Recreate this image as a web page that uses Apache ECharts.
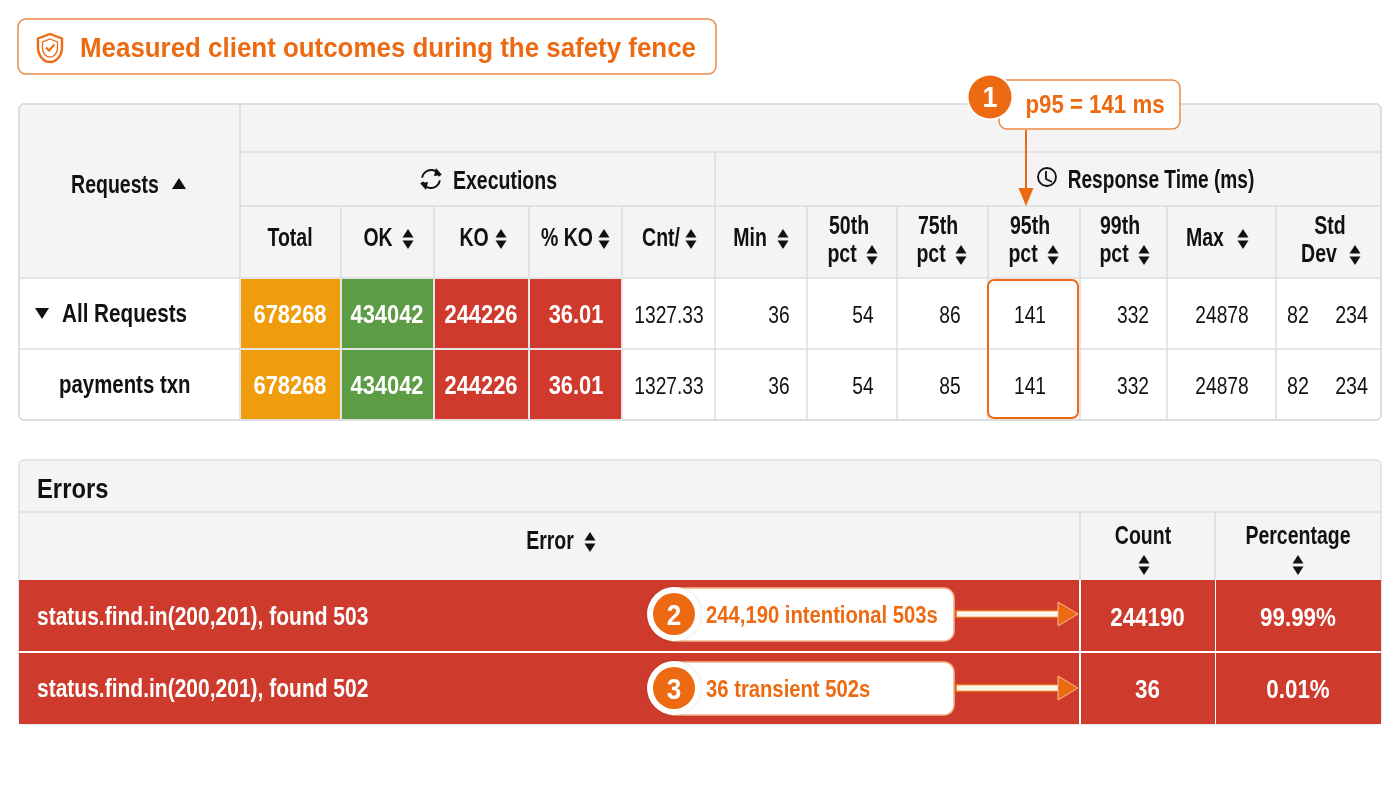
<!DOCTYPE html>
<html>
<head>
<meta charset="utf-8">
<script src="https://cdn.jsdelivr.net/npm/echarts@6/dist/echarts.min.js"></script>
<style>
  html, body { margin: 0; padding: 0; background: #fff; }
  #main { width: 1400px; height: 788px; }
</style>
</head>
<body>
<div id="main"></div>
<script>
// ---- data ----
const titleText = 'Measured client outcomes during the safety fence';
const requestNames = ['All Requests', 'payments txn'];
const executionHeaders = ['Total', 'OK', 'KO', '% KO', 'Cnt/'];
const responseHeaders = ['Min', '50th\npct', '75th\npct', '95th\npct', '99th\npct', 'Max', 'Std\nDev'];
const totalCounts = [678268, 678268];
const okCounts = [434042, 434042];
const koCounts = [244226, 244226];
const koPercent = ['36.01', '36.01'];
const cntPerSec = ['1327.33', '1327.33'];
const minMs = [36, 36];
const p50Ms = [54, 54];
const p75Ms = [86, 85];
const p95Ms = [141, 141];
const p99Ms = [332, 332];
const maxMs = [24878, 24878];
const stdDevMs = [[82, 234], [82, 234]];

const errorHeaders = ['Error', 'Count', 'Percentage'];
const errorMessages = ['status.find.in(200,201), found 503', 'status.find.in(200,201), found 502'];
const errorCounts = [244190, 36];
const errorPercent = ['99.99%', '0.01%'];
const calloutTexts = ['p95 = 141 ms', '244,190 intentional 503s', '36 transient 502s'];

// ---- layout ----
const FONT = '"Liberation Sans", Arial, sans-serif';
const ORANGE = '#EC6A12';
const LINE = '#DCDCDC';
const HEAD_BG = '#F4F4F4';
const RED = '#CE3A2B';
const DY = 2.5; // nudge for middle-aligned glyphs
const HEAD_SIZE = 25;
const HEAD_SX = 0.78;

const colEdges = [240, 341, 434, 529, 622, 715, 807, 897, 988, 1080, 1167, 1276, 1381];
const colText = [290, 387, 481, 576, 669, 779, 863, 950, 1030, 1133, 1222, null];
const rowEdges = [278, 349, 420];
const errColEdges = [19, 1080, 1215, 1381];
const errRowEdges = [580, 652, 724];

const colFills = ['#EF9D0C', '#5C9C45', '#D03A2C', '#D03A2C'];

// build the metrics cells from the arrays
const columnValues = [totalCounts, okCounts, koCounts, koPercent, cntPerSec,
  minMs, p50Ms, p75Ms, p95Ms, p99Ms, maxMs, stdDevMs];
const metricCells = [];
requestNames.forEach((name, r) => {
  columnValues.forEach((vals, c) => {
    metricCells.push({ col: c, row: r, value: vals[r] });
  });
});
const errorCells = [];
errorMessages.forEach((msg, r) => {
  [msg, errorCounts[r], errorPercent[r]].forEach((v, c) => {
    errorCells.push({ col: c, row: r, value: v });
  });
});

let chart = echarts.init(document.getElementById('main'), null, { renderer: 'canvas' });

// text drawn condensed: scaled around its anchor point
let txt = (text, x, y, size, opt) => {
  opt = opt || {};
  const al = opt.align || 'center';
  return {
    type: 'text', z: opt.z || 20,
    x: x, y: y + DY, scaleX: opt.sx || HEAD_SX,
    style: {
      text: text, x: 0, y: 0,
      fill: opt.fill || '#111',
      fontSize: size, fontWeight: opt.bold === false ? 'normal' : 'bold',
      fontFamily: FONT,
      textAlign: al, align: al,
      textVerticalAlign: 'middle', verticalAlign: 'middle'
    }
  };
};
let hline = (x1, x2, y, c, w) => ({ type: 'line', z: 15, shape: { x1: x1, y1: y, x2: x2, y2: y }, style: { stroke: c || LINE, lineWidth: w || 1.5 } });
let vline = (x, y1, y2, c, w) => ({ type: 'line', z: 15, shape: { x1: x, y1: y1, x2: x, y2: y2 }, style: { stroke: c || LINE, lineWidth: w || 1.5 } });
let sortIcon = (cx, cy) => ([
  { type: 'polygon', z: 20, shape: { points: [[cx - 5.5, cy - 1.5], [cx + 5.5, cy - 1.5], [cx, cy - 10]] }, style: { fill: '#111' } },
  { type: 'polygon', z: 20, shape: { points: [[cx - 5.5, cy + 1.5], [cx + 5.5, cy + 1.5], [cx, cy + 10]] }, style: { fill: '#111' } }
]);
let badge = (cx, cy, n) => ([
  { type: 'circle', z: 40, shape: { cx: cx, cy: cy, r: 27 }, style: { fill: '#fff', shadowBlur: 3, shadowColor: 'rgba(0,0,0,0.15)' } },
  { type: 'circle', z: 41, shape: { cx: cx, cy: cy, r: 21 }, style: { fill: ORANGE } },
  txt(String(n), cx, cy, 29, { fill: '#fff', z: 42, sx: 0.9 })
]);
// shield outline: flat top, curved lower half
let shieldPts = (cx, top, w, h) => {
  const pts = [[cx, top], [cx + w / 2, top + h * 0.16], [cx + w / 2, top + h * 0.48]];
  for (let t = 0.1; t <= 1.001; t += 0.1) {
    const a = Math.PI * 0.5 * t;
    pts.push([cx + (w / 2) * Math.cos(a), top + h * 0.48 + h * 0.52 * Math.sin(a)]);
  }
  for (let t = 0.9; t >= -0.001; t -= 0.1) {
    const a = Math.PI * 0.5 * t;
    pts.push([cx - (w / 2) * Math.cos(a), top + h * 0.48 + h * 0.52 * Math.sin(a)]);
  }
  pts.push([cx - w / 2, top + h * 0.16]);
  return pts;
};

let g = [];
// title box
g.push({ type: 'rect', z: 5, shape: { x: 18, y: 19, width: 698, height: 55, r: 8 }, style: { fill: '#fff', stroke: '#E98A48', lineWidth: 1.5 } });
g.push({ type: 'polygon', z: 20, shape: { points: shieldPts(50, 34, 24, 28) }, style: { fill: 'none', stroke: ORANGE, lineWidth: 2.4 } });
g.push({ type: 'polygon', z: 20, shape: { points: shieldPts(50, 39, 15, 18) }, style: { fill: 'none', stroke: ORANGE, lineWidth: 1.3 } });
g.push({ type: 'polyline', z: 20, shape: { points: [[46, 47.5], [49, 50.5], [54.5, 44.5]] }, style: { stroke: ORANGE, lineWidth: 2, fill: null } });
g.push(txt(titleText, 80, 47, 28, { fill: ORANGE, align: 'left', sx: 0.925 }));

// ---- metrics table frame ----
g.push({ type: 'rect', z: 1, shape: { x: 19, y: 104, width: 1362, height: 316, r: 5 }, style: { fill: '#fff', stroke: LINE, lineWidth: 1.5 } });
g.push({ type: 'rect', z: 2, shape: { x: 20, y: 105, width: 1360, height: 173, r: [5, 5, 0, 0] }, style: { fill: HEAD_BG } });
g.push({ type: 'rect', z: 30, shape: { x: 19, y: 104, width: 1362, height: 316, r: 5 }, style: { fill: 'none', stroke: LINE, lineWidth: 1.5 } });
g.push(hline(240, 1381, 152));
g.push(hline(240, 1381, 206));
g.push(hline(19, 1381, 278));
g.push(hline(19, 1381, 349));
g.push(vline(240, 104, 420));
g.push(vline(715, 152, 420));
colEdges.slice(1, -1).forEach(x => { if (x !== 715) g.push(vline(x, 206, 420)); });

// headers
g.push(txt('Requests', 115, 184, HEAD_SIZE));
g.push({ type: 'polygon', z: 20, shape: { points: [[172, 189], [186, 189], [179, 178]] }, style: { fill: '#111' } });
g.push(txt('Executions', 505, 180, HEAD_SIZE));
g.push({ type: 'arc', z: 20, shape: { cx: 431, cy: 179, r: 9, startAngle: Math.PI * 1.05, endAngle: Math.PI * 1.9, clockwise: true }, style: { stroke: '#111', lineWidth: 2, fill: null } });
g.push({ type: 'arc', z: 20, shape: { cx: 431, cy: 179, r: 9, startAngle: Math.PI * 0.05, endAngle: Math.PI * 0.9, clockwise: true }, style: { stroke: '#111', lineWidth: 2, fill: null } });
g.push({ type: 'polygon', z: 20, shape: { points: [[436, 168], [442, 175], [434, 176]] }, style: { fill: '#111' } });
g.push({ type: 'polygon', z: 20, shape: { points: [[426, 190], [420, 183], [428, 182]] }, style: { fill: '#111' } });
g.push(txt('Response Time (ms)', 1161, 179, HEAD_SIZE, { sx: 0.765 }));
g.push({ type: 'circle', z: 20, shape: { cx: 1047, cy: 177, r: 9 }, style: { fill: 'none', stroke: '#111', lineWidth: 1.8 } });
g.push({ type: 'polyline', z: 20, shape: { points: [[1046, 171], [1046, 179], [1052, 182]] }, style: { stroke: '#111', lineWidth: 1.8, fill: null } });

// [text centre line 1, text centre line 2, sort icon x]
const headerTextPos = [[290, null, null], [378, null, 408], [474, null, 501], [567, null, 604], [661, null, 691],
  [750, null, 783], [849, 842, 872], [938, 931, 961], [1030, 1023, 1053], [1120, 1114, 1144], [1205, null, 1243], [1330, 1319, 1355]];
executionHeaders.concat(responseHeaders).forEach((label, i) => {
  const p = headerTextPos[i];
  const parts = label.split('\n');
  if (parts.length === 1) {
    g.push(txt(label, p[0], 237, HEAD_SIZE));
    if (p[2]) g.push(...sortIcon(p[2], 239));
  } else {
    g.push(txt(parts[0], p[0], 225, HEAD_SIZE));
    g.push(txt(parts[1], p[1], 253, HEAD_SIZE));
    g.push(...sortIcon(p[2], 255));
  }
});
// row labels
g.push({ type: 'polygon', z: 20, shape: { points: [[35, 308], [49, 308], [42, 319]] }, style: { fill: '#111' } });
g.push(txt(requestNames[0], 62, 313, 25, { align: 'left', sx: 0.826 }));
g.push(txt(requestNames[1], 59, 384, 25, { align: 'left', sx: 0.816 }));

// p95 highlight + callout 1
g.push({ type: 'rect', z: 32, shape: { x: 988, y: 280, width: 90, height: 138, r: 6 }, style: { fill: 'none', stroke: ORANGE, lineWidth: 2 } });
g.push({ type: 'line', z: 38, shape: { x1: 1026, y1: 130, x2: 1026, y2: 192 }, style: { stroke: ORANGE, lineWidth: 2 } });
g.push({ type: 'polygon', z: 38, shape: { points: [[1018.5, 188], [1033.5, 188], [1026, 206]] }, style: { fill: ORANGE } });
g.push({ type: 'rect', z: 39, shape: { x: 999, y: 80, width: 181, height: 49, r: 8 }, style: { fill: '#fff', stroke: '#E98A48', lineWidth: 1.5 } });
g.push(txt(calloutTexts[0], 1095, 104, 25, { fill: ORANGE, z: 42, sx: 0.89 }));
g.push({ type: 'circle', z: 40, shape: { cx: 990, cy: 97, r: 23.5 }, style: { fill: '#fff' } });
g.push({ type: 'circle', z: 41, shape: { cx: 990, cy: 97, r: 21.5 }, style: { fill: ORANGE } });
g.push(txt('1', 990, 96, 30, { fill: '#fff', z: 42, sx: 0.9 }));

// ---- errors table frame ----
g.push({ type: 'rect', z: 1, shape: { x: 19, y: 460, width: 1362, height: 264, r: 5 }, style: { fill: '#fff', stroke: LINE, lineWidth: 1.5 } });
g.push({ type: 'rect', z: 2, shape: { x: 20, y: 461, width: 1360, height: 119, r: [5, 5, 0, 0] }, style: { fill: HEAD_BG } });
g.push(hline(19, 1381, 512));
g.push(vline(1080, 512, 580));
g.push(vline(1215, 512, 580));
g.push(txt('Errors', 37, 488, 28, { align: 'left', sx: 0.85 }));
g.push(txt(errorHeaders[0], 550, 540, HEAD_SIZE));
g.push(...sortIcon(590, 542));
g.push(txt(errorHeaders[1], 1143, 535, HEAD_SIZE));
g.push(...sortIcon(1144, 565));
g.push(txt(errorHeaders[2], 1298, 535, HEAD_SIZE));
g.push(...sortIcon(1298, 565));

// callouts 2, 3
[[614, calloutTexts[1]], [688, calloutTexts[2]]].forEach((c, i) => {
  const cy = c[0];
  g.push({ type: 'rect', z: 38, shape: { x: 664, y: cy - 26, width: 290, height: 53, r: 10 }, style: { fill: '#fff', stroke: '#F4B78C', lineWidth: 1.5 } });
  g.push(txt(c[1], 706, cy, 23, { fill: ORANGE, align: 'left', z: 42, sx: 0.88 }));
  g.push(...badge(674, cy, i + 2));
  g.push({
    type: 'polygon', z: 38,
    shape: { points: [[956, cy - 3.5], [1060, cy - 3.5], [1060, cy + 3.5], [956, cy + 3.5]] },
    style: { fill: '#FFF6EF', stroke: ORANGE, lineWidth: 1.6 }
  });
  g.push({
    type: 'polygon', z: 39,
    shape: { points: [[1058, cy - 12], [1078, cy], [1058, cy + 12]] },
    style: { fill: ORANGE, stroke: '#F7B98E', lineWidth: 1 }
  });
});

chart.setOption({
  animation: false,
  backgroundColor: '#ffffff',
  grid: { left: 0, right: 0, top: 0, bottom: 0 },
  xAxis: { type: 'value', min: 0, max: 1400, show: false },
  yAxis: { type: 'value', min: 0, max: 788, inverse: true, show: false },
  graphic: { elements: g },
  series: [
    {
      // metrics cells
      type: 'custom',
      z: 10,
      coordinateSystem: 'cartesian2d',
      data: metricCells.map(c => [c.col, c.row]),
      renderItem: (params, api) => {
        const cell = metricCells[params.dataIndex];
        const c = api.value(0), r = api.value(1);
        const p0 = api.coord([colEdges[c], rowEdges[r]]);
        const p1 = api.coord([colEdges[c + 1], rowEdges[r + 1]]);
        const cy = (p0[1] + p1[1]) / 2 + DY;
        const children = [];
        const fill = colFills[c];
        if (fill) {
          children.push({ type: 'rect', shape: { x: p0[0] + 1, y: p0[1] + 1, width: p1[0] - p0[0] - 2, height: p1[1] - p0[1] - 2 }, style: { fill: fill } });
        }
        const base = { x: 0, y: 0, fontFamily: FONT, fontSize: 24, verticalAlign: 'middle', textVerticalAlign: 'middle' };
        if (Array.isArray(cell.value)) {
          children.push({ type: 'text', x: p0[0] + 11, y: cy, scaleX: 0.82, style: Object.assign({}, base, { text: String(cell.value[0]), fill: '#111', align: 'left', textAlign: 'left' }) });
          children.push({ type: 'text', x: p1[0] - 13, y: cy, scaleX: 0.82, style: Object.assign({}, base, { text: String(cell.value[1]), fill: '#111', align: 'right', textAlign: 'right' }) });
        } else {
          const cx = api.coord([colText[c], 0])[0];
          children.push({
            type: 'text', x: cx, y: cy, scaleX: fill ? 0.875 : 0.8,
            style: Object.assign({}, base, {
              text: String(cell.value),
              fill: fill ? '#fff' : '#111', fontWeight: fill ? 'bold' : 'normal',
              fontSize: fill ? 25 : 24,
              align: 'center', textAlign: 'center'
            })
          });
        }
        return { type: 'group', children: children };
      }
    },
    {
      // error rows
      type: 'custom',
      z: 10,
      coordinateSystem: 'cartesian2d',
      data: errorCells.map(c => [c.col, c.row]),
      renderItem: (params, api) => {
        const cell = errorCells[params.dataIndex];
        const c = api.value(0), r = api.value(1);
        const p0 = api.coord([errColEdges[c], errRowEdges[r]]);
        const p1 = api.coord([errColEdges[c + 1], errRowEdges[r + 1]]);
        const cy = (p0[1] + p1[1]) / 2 + DY;
        const left = c === 0;
        return {
          type: 'group',
          children: [
            { type: 'rect', shape: { x: p0[0] + (left ? 0 : 1), y: p0[1] + (r ? 1 : 0), width: p1[0] - p0[0] - 1, height: p1[1] - p0[1] - 1 }, style: { fill: RED } },
            {
              type: 'text',
              x: left ? p0[0] + 18 : (p0[0] + p1[0]) / 2, y: cy,
              scaleX: left ? 0.84 : 0.86,
              style: {
                text: String(cell.value), x: 0, y: 0,
                fill: '#fff', fontFamily: FONT, fontSize: left ? 25 : 26, fontWeight: 'bold',
                align: left ? 'left' : 'center', textAlign: left ? 'left' : 'center',
                verticalAlign: 'middle', textVerticalAlign: 'middle'
              }
            }
          ]
        };
      }
    }
  ]
});
</script>
</body>
</html>
